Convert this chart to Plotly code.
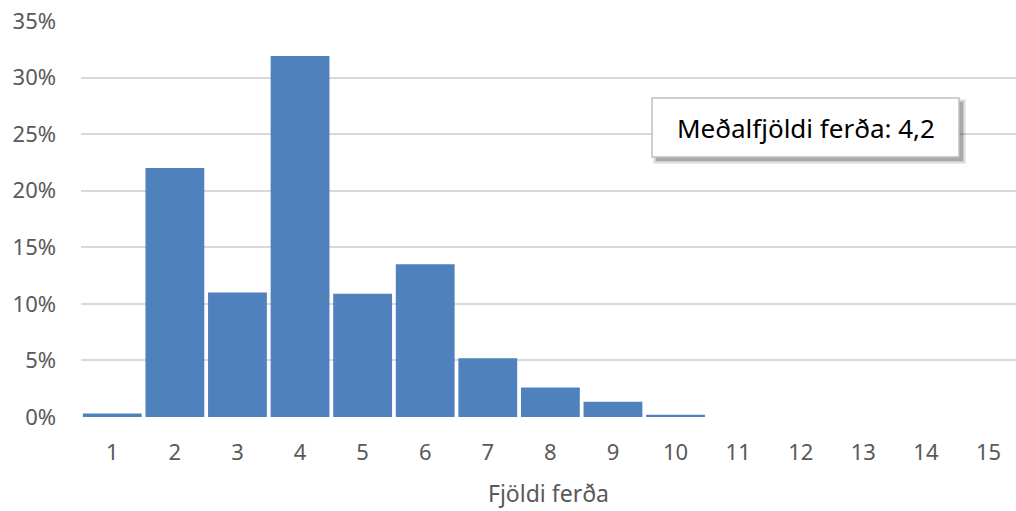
import plotly.graph_objects as go

# Fjöldi ferða og hlutfall svarenda
trips = list(range(1, 16))
share = [0.3, 22.0, 11.0, 31.9, 10.9, 13.5, 5.2, 2.6, 1.35, 0.2, 0, 0, 0, 0, 0]
y_ticks = [0, 5, 10, 15, 20, 25, 30, 35]
y_tick_labels = [f"{v}%" for v in y_ticks]
mean_label = "Meðalfjöldi ferða: 4,2"
x_title = "Fjöldi ferða"

W, H = 1016, 511
ML, MR, MT, MB = 81, 0, 21, 94

fig = go.Figure(
    go.Bar(
        x=trips,
        y=share,
        marker=dict(color="#4F81BD", line=dict(width=0)),
        width=0.94,
        hoverinfo="skip",
    )
)

font_family = "Noto Sans"
tick_color = "#595959"
grid_color = "#d9d9d9"

fig.update_layout(
    width=W,
    height=H,
    margin=dict(l=ML, r=MR, t=MT, b=MB),
    paper_bgcolor="white",
    plot_bgcolor="white",
    showlegend=False,
    font=dict(family=font_family, color=tick_color),
    xaxis=dict(
        range=[0.5, 15.44],
        tickmode="array",
        tickvals=trips,
        ticktext=[str(t) for t in trips],
        tickfont=dict(size=22, color=tick_color),
        showgrid=False,
        zeroline=False,
        showline=False,
        ticks="",
        ticklabelstandoff=20,
        title=dict(text=x_title, font=dict(size=23, color=tick_color), standoff=20),
    ),
    yaxis=dict(
        range=[0, 35],
        tickmode="array",
        tickvals=y_ticks,
        ticktext=y_tick_labels,
        tickfont=dict(size=22, color=tick_color),
        showgrid=True,
        gridcolor=grid_color,
        gridwidth=1.5,
        zeroline=False,
        ticks="",
        ticklabelstandoff=24,
    ),
)

# Textbox with drop shadow, placed in pixel units converted to paper coordinates
pw = W - ML - MR
ph = H - MT - MB


def px(x):
    return (x - ML) / pw


def py(y):
    return 1 - (y - MT) / ph


box = (652, 98, 959, 157)
shadow_off = 4
for col, grow in [("rgba(0,0,0,0.08)", 3), ("rgba(0,0,0,0.12)", 1.5), ("rgba(0,0,0,0.18)", 0)]:
    fig.add_shape(
        type="rect", xref="paper", yref="paper",
        x0=px(box[0] + shadow_off - grow), x1=px(box[2] + shadow_off + grow),
        y0=py(box[3] + shadow_off + grow), y1=py(box[1] + shadow_off - grow),
        line=dict(width=0), fillcolor=col, layer="above",
    )
fig.add_shape(
    type="rect", xref="paper", yref="paper",
    x0=px(box[0]), x1=px(box[2]), y0=py(box[3]), y1=py(box[1]),
    line=dict(color="#bfbfbf", width=1.5), fillcolor="white", layer="above",
)
fig.add_annotation(
    xref="paper", yref="paper",
    x=px((box[0] + box[2]) / 2), y=py((box[1] + box[3]) / 2),
    text=mean_label, showarrow=False,
    font=dict(size=26, color="black", family=font_family),
    xanchor="center", yanchor="middle",
)

fig.write_html("out.html")
